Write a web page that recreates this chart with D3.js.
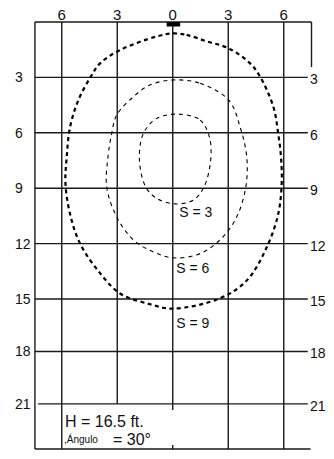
<!DOCTYPE html>
<html><head><meta charset="utf-8">
<script src="https://cdn.jsdelivr.net/npm/d3@7"></script>
<style>html,body{margin:0;padding:0;background:#fff;} svg{display:block;font-family:"Liberation Sans",Arial,sans-serif;}</style>
</head><body><svg id="c" width="334" height="459"></svg>
<script>
// ---- data ----
const topTicks = [-6, -3, 0, 3, 6];
const topTickLabels = ["6", "3", "0", "3", "6"];
const depthTicks = [3, 6, 9, 12, 15, 18, 21];
const depthTickLabels = ["3", "6", "9", "12", "15", "18", "21"];
const contourLabels = ["S = 3", "S = 6", "S = 9"];
const contourLabelDepths = [10.55, 13.6, 16.65];
// contour S=3 (offset ft, depth ft)
const contourS3 = [[0.3,4.99],[1.48,5.31],[1.98,6.22],[2.05,7.48],[1.69,8.93],[1.11,9.65],[0.12,9.85],[-0.86,9.56],[-1.46,8.93],[-1.8,7.48],[-1.59,6.04],[-0.86,5.22]];
// contour S=6
const contourS6 = [[0.03,3.14],[1.48,3.32],[3.03,4.23],[3.64,5.68],[4.0,7.3],[3.95,8.93],[3.46,10.55],[2.65,11.7],[1.48,12.54],[0.03,12.77],[-1.05,12.45],[-2.13,11.8],[-3.03,10.55],[-3.57,8.93],[-3.5,7.3],[-3.3,6.04],[-3.03,5.04],[-2.13,4.05],[-1.23,3.41]];
// contour S=9
const contourS9 = [[0,0.62],[0.75,0.7],[1.84,1.05],[3.03,1.43],[4.18,2.24],[4.72,2.96],[5.44,4.6],[5.7,6.04],[5.85,7.3],[5.89,8.74],[5.7,10.4],[5.08,12.2],[4.0,14.0],[2.56,14.96],[0,15.55],[-1.23,15.3],[-2.85,14.7],[-3.93,13.6],[-5.01,12.0],[-5.55,10.4],[-5.8,8.74],[-5.73,7.3],[-5.55,5.68],[-5.1,4.23],[-4.43,2.96],[-3.93,2.24],[-2.85,1.52],[-0.86,0.78]];
// vertical grid extents (depth ft)
const verticalGrid = [
  {x:-6, from:0, to:23.58},
  {x:-3, from:0, to:21},
  {x:0, from:0, to:21.35},
  {x:0, from:23.35, to:23.58},
  {x:3, from:0, to:23.58},
  {x:6, from:0, to:23.58}
];
const infoLine1 = "H = 16.5 ft.";
const infoLine2a = ",Ángulo";
const infoLine2b = "= 30°";

// ---- scales ----
const svg = d3.select("#c");
const x = d3.scaleLinear().domain([-7.5, 7.5]).range([34, 311.5]);
const y = d3.scaleLinear().domain([0, 15, 23.58]).range([22, 299, 449]);
const gridColor = "#1a1a1a";

// grid
const g = svg.append("g").attr("stroke", gridColor).attr("stroke-width", 1.4).attr("fill", "none");
g.selectAll("line.h").data(depthTicks).join("line")
  .attr("x1", d => d === 21 ? x(-7.28) : x(-7.45)).attr("x2", x(7.3))
  .attr("y1", d => y(d)).attr("y2", d => y(d));
g.append("line").attr("x1", x(-7.45)).attr("x2", x(7.5)).attr("y1", y(0)).attr("y2", y(0));
g.append("line").attr("x1", x(-7.45)).attr("x2", x(7.45)).attr("y1", y(23.58)).attr("y2", y(23.58));
g.append("line").attr("x1", x(-7.45)).attr("x2", x(-7.45)).attr("y1", y(0)).attr("y2", y(23.58));
g.append("line").attr("x1", x(7.5)).attr("x2", x(7.5)).attr("y1", y(0)).attr("y2", y(2.44));
g.selectAll("line.v").data(verticalGrid).join("line")
  .attr("x1", d => x(d.x)).attr("x2", d => x(d.x))
  .attr("y1", d => y(d.from)).attr("y2", d => y(d.to));

// source marker
svg.append("rect").attr("x", x(-0.33)).attr("y", y(0)).attr("width", x(0.4) - x(-0.33)).attr("height", 4.5).attr("fill", "#000");

// labels
const fs = svg.append("g").attr("fill", "#111");
fs.selectAll("text.t").data(topTicks).join("text")
  .attr("x", d => x(d)).attr("y", 19.5).attr("text-anchor", "middle").attr("font-size", 15)
  .text((d, i) => topTickLabels[i]);
fs.selectAll("text.l").data(depthTicks).join("text")
  .attr("x", 15).attr("y", d => y(d)).attr("dy", "0.36em").attr("font-size", 14)
  .text((d, i) => depthTickLabels[i]);
fs.selectAll("text.r").data(depthTicks).join("text")
  .attr("x", 310).attr("y", d => y(d) + 2).attr("dy", "0.36em").attr("font-size", 14)
  .text((d, i) => depthTickLabels[i]);

// contours
const line = d3.line().x(d => x(d[0])).y(d => y(d[1])).curve(d3.curveCatmullRomClosed.alpha(0.5));
const contours = [contourS3, contourS6, contourS9];
svg.selectAll("path.c").data(contours).join("path")
  .attr("d", d => line(d)).attr("fill", "none").attr("stroke", "#000")
  .attr("stroke-width", (d, i) => i === 2 ? 2.2 : 1.1)
  .attr("stroke-dasharray", (d, i) => i === 2 ? "4,3.5" : "4,4");

fs.selectAll("text.s").data(contourLabels).join("text")
  .attr("x", (d, i) => i === 0 ? x(0) + 6.5 : x(0) + 3.5)
  .attr("y", (d, i) => y(contourLabelDepths[i]))
  .attr("font-size", 14).text(d => d);

// info text
fs.append("text").attr("x", 65).attr("y", 427).attr("font-size", 16).text(infoLine1);
fs.append("text").attr("x", 64).attr("y", 443).attr("font-size", 10).text(infoLine2a);
fs.append("text").attr("x", 113).attr("y", 445).attr("font-size", 16).text(infoLine2b);
</script></body></html>
